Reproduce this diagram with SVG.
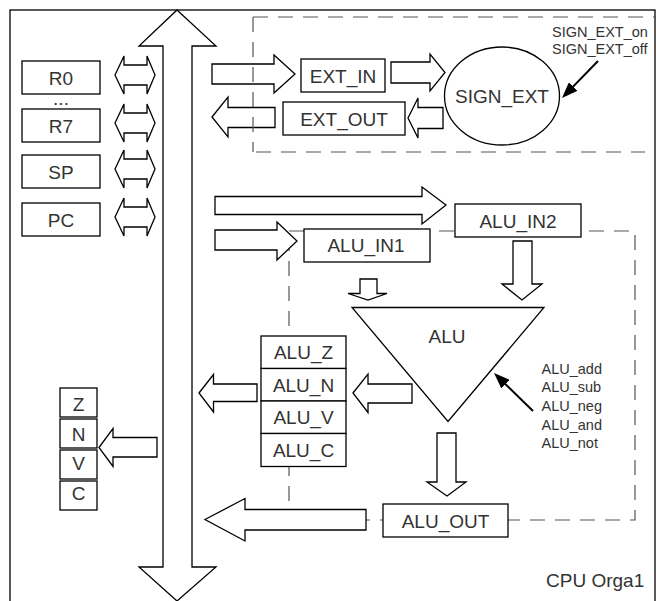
<svg xmlns="http://www.w3.org/2000/svg" width="656" height="601" viewBox="0 0 656 601">
<defs>
<style>
.blk{fill:#fff;stroke:#000;stroke-width:1.3;stroke-linejoin:miter}
.box{fill:#fff;stroke:#000;stroke-width:1.3}
.dash{fill:none;stroke:#555;stroke-width:1.2;stroke-dasharray:15,10}
.t{font-family:"Liberation Sans",Arial,sans-serif;font-size:19px;fill:#333;text-anchor:middle}
.s{font-family:"Liberation Sans",Arial,sans-serif;font-size:14.5px;fill:#333}
.ctl{stroke:#000;stroke-width:2;fill:none}
</style>
<marker id="ah" viewBox="0 0 16 12" refX="12" refY="6" markerWidth="16" markerHeight="12" orient="auto" markerUnits="userSpaceOnUse">
<path d="M0,0 L16,6 L0,12 z" fill="#000"/>
</marker>
</defs>
<rect x="10" y="10" width="645" height="600" fill="none" stroke="#000" stroke-width="1.3"/>
<g id="alu-region">
<rect class="dash" x="289" y="231" width="346" height="289"/>
</g>
<g id="connectors">
<polygon id="bus" class="blk" points="177,10 216,46 192,46 192,567 216,567 177,601 139,567 163,567 163,46 139,46"/>
<polygon class="blk" points="115,75 124,56 124,65 147,65 147,56 155,75 147,94 147,85 124,85 124,94"/>
<polygon class="blk" points="115,123 124,104 124,113 147,113 147,104 155,123 147,142 147,133 124,133 124,142"/>
<polygon class="blk" points="115,169 124,150 124,159 147,159 147,150 155,169 147,188 147,179 124,179 124,188"/>
<polygon class="blk" points="115,217 124,198 124,207 147,207 147,198 155,217 147,236 147,227 124,227 124,236"/>
<polygon class="blk" points="212,64 274,64 274,55 295,74 274,93 274,84 212,84"/>
<polygon class="blk" points="212,117 228,97 228,107.5 275,107.5 275,127.5 228,127.5 228,137"/>
<polygon class="blk" points="391,62 430,62 430,54 445,72.5 430,91 430,83 391,83"/>
<polygon class="blk" points="408,118 418,98 418,107.5 443,107.5 443,128.5 418,128.5 418,138"/>
<polygon class="blk" points="215,196.5 422,196.5 422,187 446,205 422,224 422,214.5 215,214.5"/>
<polygon class="blk" points="215,230 277,230 277,222 297,241 277,260 277,250 215,250"/>
<polygon class="blk" points="360,279 377,279 377,293.5 387,293.5 368,300 348,293.5 360,293.5"/>
<polygon class="blk" points="513,241 532,241 532,284 542,284 522,300 502,284 513,284"/>
<polygon class="blk" points="353,393 368,374 368,384 412,384 412,403 368,403 368,412.5"/>
<polygon class="blk" points="199,393 213.5,374.5 213.5,384 257,384 257,401.5 213.5,401.5 213.5,412"/>
<polygon class="blk" points="99,447.5 113,428.5 113,437.5 157,437.5 157,457 113,457 113,466.5"/>
<polygon class="blk" points="437,433 456,433 456,482 466,482 447,496 427,482 437,482"/>
<polygon class="blk" points="205,519.5 245,498.5 245,509.5 366,509.5 366,530 245,530 245,541"/>
<line class="ctl" x1="598" y1="61" x2="564.8" y2="95.1" marker-end="url(#ah)"/>
<line class="ctl" x1="533" y1="411" x2="496.9" y2="375.8" marker-end="url(#ah)"/>
</g>
<g id="sign-ext-region">
<path class="dash" d="M253,17 H656 M256,152 H645 M253,17 V152"/>
</g>
<g id="R0"><rect class="box" x="22" y="61" width="78" height="33"/><text class="t" x="61" y="84.5">R0</text></g>
<g id="dots"><text class="t" x="61" y="104.5">...</text></g>
<g id="R7"><rect class="box" x="22" y="109" width="78" height="33"/><text class="t" x="61" y="132.5">R7</text></g>
<g id="SP"><rect class="box" x="22" y="155" width="78" height="33"/><text class="t" x="61" y="178.5">SP</text></g>
<g id="PC"><rect class="box" x="22" y="203" width="78" height="33"/><text class="t" x="61" y="226.5">PC</text></g>
<g id="EXT_IN"><rect class="box" x="301" y="59" width="84" height="33"/><text class="t" x="343" y="82.5">EXT_IN</text></g>
<g id="EXT_OUT"><rect class="box" x="283" y="102" width="122" height="33"/><text class="t" x="344" y="126">EXT_OUT</text></g>
<g id="SIGN_EXT"><ellipse class="box" cx="502" cy="96" rx="57.5" ry="49"/><text class="t" x="502" y="102.5">SIGN_EXT</text></g>
<g id="sign-ctl"><text class="s" x="552" y="36.5">SIGN_EXT_on</text><text class="s" x="552" y="54">SIGN_EXT_off</text></g>
<g id="ALU_IN1"><rect class="box" x="304" y="229" width="126" height="33"/><text class="t" x="366" y="252">ALU_IN1</text></g>
<g id="ALU_IN2"><rect class="box" x="455" y="204" width="126" height="33"/><text class="t" x="518" y="227.5">ALU_IN2</text></g>
<g id="ALU"><polygon class="box" points="352,307.5 544,307.5 448,421.5"/><text class="t" x="447" y="343">ALU</text></g>
<g id="alu-ctl">
<text class="s" x="541.5" y="373.5">ALU_add</text>
<text class="s" x="541.5" y="392.2">ALU_sub</text>
<text class="s" x="541.5" y="410.9">ALU_neg</text>
<text class="s" x="541.5" y="429.6">ALU_and</text>
<text class="s" x="541.5" y="448.3">ALU_not</text>
</g>
<g id="ALU_flags">
<rect class="box" x="261" y="336" width="85" height="32.5"/>
<rect class="box" x="261" y="368.5" width="85" height="32.5"/>
<rect class="box" x="261" y="401" width="85" height="32.5"/>
<rect class="box" x="261" y="433.5" width="85" height="33"/>
<text class="t" x="303.5" y="359">ALU_Z</text>
<text class="t" x="303.5" y="391.5">ALU_N</text>
<text class="t" x="303.5" y="424">ALU_V</text>
<text class="t" x="303.5" y="457">ALU_C</text>
</g>
<g id="flags">
<rect class="box" x="60" y="388" width="37" height="29"/>
<rect class="box" x="60" y="419" width="37" height="29"/>
<rect class="box" x="60" y="450" width="37" height="29"/>
<rect class="box" x="60" y="481" width="37" height="29"/>
<text class="t" x="78.5" y="411">Z</text>
<text class="t" x="78.5" y="440.5">N</text>
<text class="t" x="78.5" y="470">V</text>
<text class="t" x="78.5" y="500">C</text>
</g>
<g id="ALU_OUT"><rect class="box" x="383" y="504" width="125" height="33"/><text class="t" x="445.5" y="527.5">ALU_OUT</text></g>
<g id="title"><text class="t" x="546" y="587" style="text-anchor:start">CPU Orga1</text></g>
</svg>
